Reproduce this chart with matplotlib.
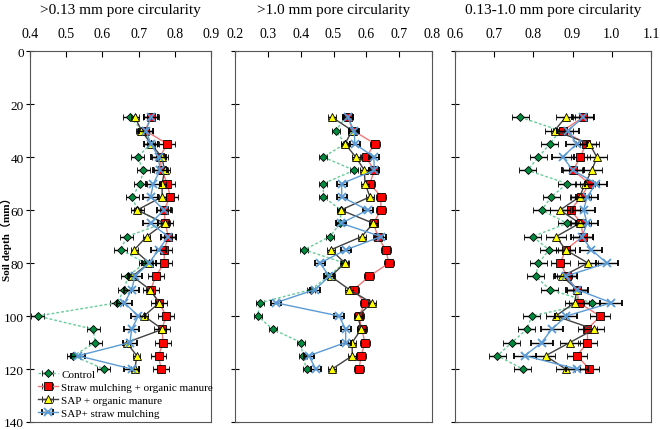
import numpy as np
import matplotlib.pyplot as plt

# soil depth of every sampled layer (mm)
depth = [25, 30, 35, 40, 45, 50, 55, 60, 65, 70, 75, 80, 85, 90, 95, 100, 105, 110, 115, 120]

labels = ['Control', 'Straw mulching + organic manure', 'SAP + organic manure', 'SAP+ straw mulching']

# >0.13 mm pore circularity
p1_ctrl = [0.676, 0.712, 0.734, 0.697, 0.713, 0.704, 0.683, 0.696, 0.769, 0.667,
           0.651, 0.718, 0.670, 0.661, 0.640, 0.421, 0.575, 0.580, 0.520, 0.604]
p1_som = [0.734, 0.718, 0.779, 0.759, 0.764, 0.779, 0.787, 0.770, 0.774, 0.782,
          0.771, 0.771, 0.747, 0.734, 0.757, 0.776, 0.764, 0.768, 0.755, 0.762]
p1_sapom = [0.690, 0.708, 0.734, 0.764, 0.772, 0.765, 0.765, 0.696, 0.772, 0.722,
            0.688, 0.729, 0.683, 0.731, 0.757, 0.715, 0.766, 0.667, 0.695, 0.690]
p1_sapst = [0.734, 0.720, 0.734, 0.755, 0.759, 0.741, 0.733, 0.770, 0.733, 0.782,
            0.755, 0.729, 0.690, 0.681, 0.661, 0.699, 0.681, 0.676, 0.533, 0.681]

# >1.0 mm pore circularity
p2_ctrl = [0.537, 0.507, 0.535, 0.469, 0.563, 0.469, 0.469, 0.523, 0.520, 0.489,
           0.411, 0.533, 0.484, 0.432, 0.276, 0.269, 0.315, 0.401, 0.406, 0.418]
p2_som = [0.543, 0.560, 0.626, 0.599, 0.624, 0.611, 0.645, 0.644, 0.622, 0.635,
          0.659, 0.669, 0.609, 0.562, 0.596, 0.578, 0.586, 0.596, 0.584, 0.578]
p2_sapom = [0.496, 0.557, 0.535, 0.568, 0.594, 0.596, 0.611, 0.523, 0.621, 0.586,
            0.492, 0.535, 0.492, 0.548, 0.616, 0.574, 0.584, 0.557, 0.557, 0.496]
p2_sapst = [0.543, 0.563, 0.565, 0.623, 0.624, 0.525, 0.525, 0.604, 0.523, 0.645,
            0.538, 0.459, 0.487, 0.444, 0.324, 0.517, 0.537, 0.537, 0.425, 0.446]

# 0.13-1.0 mm pore circularity
p3_ctrl = [0.767, 0.868, 0.842, 0.813, 0.785, 0.886, 0.846, 0.821, 0.886, 0.798,
           0.840, 0.813, 0.806, 0.842, 0.949, 0.796, 0.783, 0.745, 0.708, 0.773]
p3_som = [0.927, 0.875, 0.934, 0.920, 0.901, 0.943, 0.922, 0.895, 0.922, 0.926,
          0.882, 0.869, 0.885, 0.911, 0.916, 0.970, 0.938, 0.938, 0.911, 0.943]
p3_sapom = [0.882, 0.854, 0.943, 0.962, 0.949, 0.932, 0.918, 0.868, 0.918, 0.858,
            0.882, 0.939, 0.874, 0.911, 0.905, 0.857, 0.955, 0.893, 0.831, 0.882]
p3_sapst = [0.927, 0.888, 0.910, 0.875, 0.901, 0.960, 0.937, 0.928, 0.937, 0.924,
            0.948, 0.987, 0.882, 0.911, 0.999, 0.884, 0.847, 0.821, 0.778, 0.911]

# error bars (same for all layers of a series in a panel)
p1_err = [0.018, 0.022, 0.010, 0.020]
p2_err = [0.012, 0.015, 0.012, 0.015]
p3_err = [0.022, 0.025, 0.025, 0.028]

titles = ['>0.13 mm pore circularity', '>1.0 mm pore circularity', '0.13-1.0 mm pore circularity']
xlims = [(0.4, 0.9), (0.2, 0.8), (0.6, 1.1)]
xticks = [[0.4, 0.5, 0.6, 0.7, 0.8, 0.9],
          [0.2, 0.3, 0.4, 0.5, 0.6, 0.7, 0.8],
          [0.6, 0.7, 0.8, 0.9, 1.0, 1.1]]
yticks = [0, 20, 40, 60, 80, 100, 120, 140]

panels = [(p1_ctrl, p1_som, p1_sapom, p1_sapst, p1_err),
          (p2_ctrl, p2_som, p2_sapom, p2_sapst, p2_err),
          (p3_ctrl, p3_som, p3_sapom, p3_sapst, p3_err)]

plt.rcParams['font.family'] = ['Liberation Serif', 'Noto Sans CJK SC']

line_cols = ['#66cc99', '#f07878', '#404040', '#5b9bd5']
mk = ['D', 's', '^', 'x']
mface = ['#008a3e', '#ff0000', '#ffff00', '#5b9bd5']
msize = [4.5, 6, 6, 6]
ls = [(0, (2, 1.5)), '-', '-', '-']

fig = plt.figure(figsize=(6.6, 4.31), dpi=100)
rects = [[30/660, 0.0186, 181/660, 0.8605],
         [235/660, 0.0186, 197/660, 0.8605],
         [455/660, 0.0186, 196/660, 0.8605]]

for i, (ctrl, som, sapom, sapst, err) in enumerate(panels):
    ax = fig.add_axes(rects[i])
    series = [ctrl, som, sapom, sapst]
    for j in range(4):
        ax.errorbar(series[j], depth, xerr=err[j], color=line_cols[j], ls=ls[j], lw=1,
                    marker=mk[j], ms=msize[j], mfc=mface[j],
                    mec='black' if j < 3 else mface[j], mew=0.6 if j < 3 else 1.3,
                    ecolor='black', elinewidth=1, capsize=2, label=labels[j], zorder=3 + j)
    ax.set_xlim(*xlims[i])
    ax.set_ylim(140, 0)
    ax.set_xticks(xticks[i])
    ax.set_yticks(yticks)
    ax.xaxis.tick_top()
    ax.tick_params(axis='x', direction='in', length=4, labelsize=10, pad=8)
    ax.tick_params(axis='y', direction='inout', length=6, labelsize=9.5, pad=1.5)
    ax.set_xticklabels([f'{t:.1f}' for t in xticks[i]])
    if i > 0:
        ax.set_yticklabels([])
    for s in ax.spines.values():
        s.set_color('#555555')
    fig.text(rects[i][0] + rects[i][2] / 2, 0.975, titles[i], ha='center', va='center', fontsize=11)
    if i == 0:
        ax.legend(loc='lower left', bbox_to_anchor=(0.0, -0.01), frameon=False, fontsize=8,
                  handlelength=1.8, handletextpad=0.3, labelspacing=0.3, borderaxespad=0.3)

fig.text(0.0095, 0.45, 'Soil depth（mm）', rotation=90, ha='center', va='center',
         fontsize=8, fontweight='bold')

fig.savefig('out.png', dpi=100)
